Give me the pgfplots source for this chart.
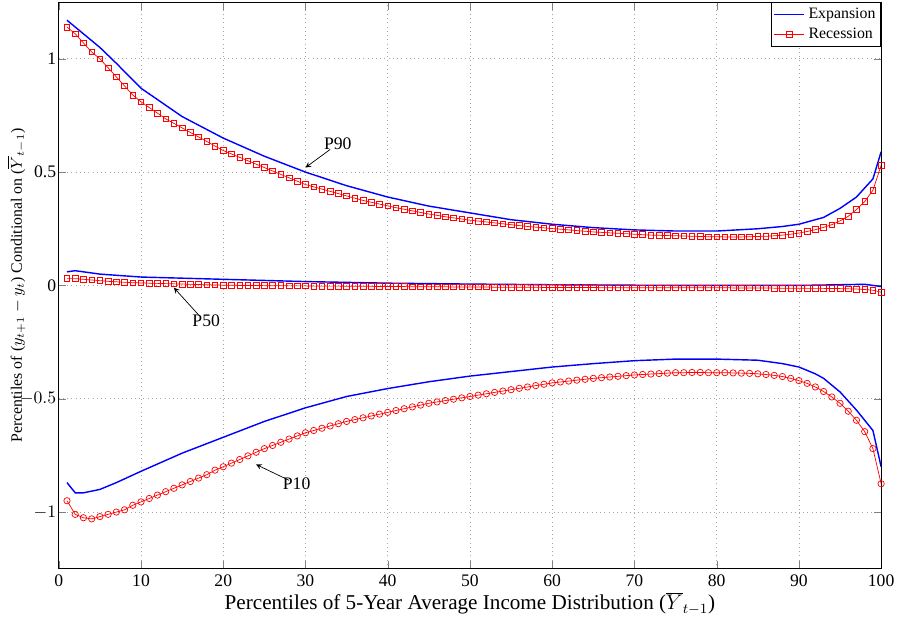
\documentclass[border=1pt]{standalone}
\usepackage{pgfplots}
\pgfplotsset{compat=1.18}
\usepackage{fontspec}
\setmainfont{Liberation Serif}
\begin{document}
\begin{tikzpicture}
\begin{axis}[scale only axis, width=16.4cm, height=11.3cm,
 xmin=0,xmax=100,ymin=-1.25,ymax=1.25,
 xtick={0,10,...,100}, ytick={-1,-0.5,0,0.5,1},
 yticklabels={$-1$,$-0.5$,0,0.5,1},
 /pgf/number format/assume math mode=true,
 yticklabel style={xshift=2pt},
 grid=major, grid style={dotted,gray!70},
 tick align=inside, axis line style={black},
 xlabel={\large Percentiles of 5-Year Average Income Distribution ($\overline{Y}_{t-1}$)},
 ylabel={Percentiles of ($y_{t+1}-y_t$) Conditional on ($\overline{Y}_{t-1}$)},
 ylabel style={font=\small},
 xlabel style={yshift=4pt}, ylabel style={yshift=-10pt},
 legend style={at={(1,1)},anchor=north east,font=\small,cells={anchor=west},inner sep=1pt},
 legend cell align=left]
\addplot[blue,thick] coordinates {(1,1.17)(2,1.14)(3,1.11)(5,1.05)(7,0.98)(10,0.87)(12,0.82)(15,0.745)(20,0.65)(25,0.57)(30,0.50)(35,0.44)(40,0.39)(45,0.35)(50,0.32)(55,0.29)(60,0.27)(65,0.255)(70,0.245)(75,0.24)(80,0.24)(85,0.25)(88,0.26)(90,0.27)(92,0.29)(93,0.30)(95,0.34)(97,0.39)(99,0.47)(100,0.59)};
\addlegendentry{Expansion}
\addplot[red,mark=square,mark size=1.6pt] coordinates {(1,1.14)(2,1.11)(3,1.07)(4,1.03)(5,1.00)(6,0.96)(7,0.92)(8,0.88)(9,0.84)(10,0.81)(11,0.785)(12,0.76)(13,0.735)(14,0.715)(15,0.695)(16,0.675)(17,0.655)(18,0.635)(19,0.615)(20,0.595)(21,0.58)(22,0.565)(23,0.55)(24,0.535)(25,0.52)(26,0.505)(27,0.49)(28,0.475)(29,0.46)(30,0.445)(31,0.435)(32,0.425)(33,0.415)(34,0.405)(35,0.395)(36,0.385)(37,0.375)(38,0.367)(39,0.359)(40,0.351)(41,0.343)(42,0.336)(43,0.329)(44,0.322)(45,0.315)(46,0.309)(47,0.303)(48,0.298)(49,0.293)(50,0.288)(51,0.284)(52,0.28)(53,0.276)(54,0.272)(55,0.268)(56,0.264)(57,0.26)(58,0.257)(59,0.254)(60,0.251)(61,0.248)(62,0.245)(63,0.242)(64,0.239)(65,0.236)(66,0.234)(67,0.232)(68,0.23)(69,0.228)(70,0.226)(71,0.224)(72,0.222)(73,0.221)(74,0.22)(75,0.219)(76,0.218)(77,0.217)(78,0.216)(79,0.215)(80,0.215)(81,0.214)(82,0.214)(83,0.214)(84,0.215)(85,0.216)(86,0.217)(87,0.219)(88,0.222)(89,0.226)(90,0.231)(91,0.238)(92,0.246)(93,0.256)(94,0.268)(95,0.285)(96,0.305)(97,0.335)(98,0.37)(99,0.42)(100,0.53)};
\addlegendentry{Recession}
\addplot[blue,thick,forget plot] coordinates {(1,0.06)(2,0.065)(5,0.05)(10,0.037)(20,0.027)(30,0.017)(40,0.01)(50,0.006)(60,0.003)(70,0.001)(80,0.0)(90,0.0)(98,0.005)(100,-0.005)};
\addplot[red,mark=square,mark size=1.6pt,forget plot] coordinates {(1,0.03)(2,0.03)(3,0.027)(4,0.024)(5,0.021)(6,0.018)(7,0.016)(8,0.014)(9,0.012)(10,0.011)(11,0.01)(12,0.009)(13,0.008)(14,0.007)(15,0.006)(16,0.005)(17,0.004)(18,0.003)(19,0.002)(20,0.001)(21,0.001)(22,0)(23,0)(24,0)(25,-0.001)(26,-0.001)(27,-0.001)(28,-0.002)(29,-0.002)(30,-0.002)(31,-0.003)(32,-0.003)(33,-0.003)(34,-0.003)(35,-0.004)(36,-0.004)(37,-0.004)(38,-0.004)(39,-0.005)(40,-0.005)(41,-0.005)(42,-0.005)(43,-0.006)(44,-0.006)(45,-0.006)(46,-0.006)(47,-0.006)(48,-0.007)(49,-0.007)(50,-0.007)(51,-0.007)(52,-0.007)(53,-0.008)(54,-0.008)(55,-0.008)(56,-0.008)(57,-0.008)(58,-0.008)(59,-0.009)(60,-0.009)(61,-0.009)(62,-0.009)(63,-0.009)(64,-0.009)(65,-0.009)(66,-0.01)(67,-0.01)(68,-0.01)(69,-0.01)(70,-0.01)(71,-0.01)(72,-0.01)(73,-0.01)(74,-0.01)(75,-0.01)(76,-0.01)(77,-0.01)(78,-0.01)(79,-0.01)(80,-0.01)(81,-0.01)(82,-0.011)(83,-0.011)(84,-0.011)(85,-0.011)(86,-0.011)(87,-0.012)(88,-0.012)(89,-0.012)(90,-0.012)(91,-0.013)(92,-0.013)(93,-0.013)(94,-0.014)(95,-0.014)(96,-0.015)(97,-0.016)(98,-0.018)(99,-0.021)(100,-0.03)};
\addplot[blue,thick,forget plot] coordinates {(1,-0.87)(2,-0.915)(3,-0.915)(5,-0.9)(7,-0.87)(10,-0.82)(15,-0.74)(20,-0.67)(25,-0.60)(30,-0.54)(35,-0.49)(40,-0.455)(45,-0.425)(50,-0.40)(55,-0.38)(60,-0.36)(65,-0.345)(70,-0.332)(75,-0.325)(80,-0.325)(85,-0.33)(88,-0.345)(90,-0.36)(92,-0.39)(93,-0.41)(95,-0.47)(97,-0.55)(99,-0.64)(100,-0.80)};
\addplot[red,mark=o,mark size=1.8pt,forget plot] coordinates {(1,-0.95)(2,-1.01)(3,-1.025)(4,-1.03)(5,-1.02)(6,-1.01)(7,-1.0)(8,-0.99)(9,-0.97)(10,-0.955)(11,-0.94)(12,-0.925)(13,-0.91)(14,-0.895)(15,-0.88)(16,-0.865)(17,-0.85)(18,-0.835)(19,-0.815)(20,-0.80)(21,-0.784)(22,-0.768)(23,-0.752)(24,-0.736)(25,-0.72)(26,-0.706)(27,-0.692)(28,-0.678)(29,-0.664)(30,-0.65)(31,-0.64)(32,-0.63)(33,-0.62)(34,-0.61)(35,-0.60)(36,-0.592)(37,-0.584)(38,-0.576)(39,-0.568)(40,-0.56)(41,-0.552)(42,-0.544)(43,-0.536)(44,-0.528)(45,-0.52)(46,-0.514)(47,-0.508)(48,-0.502)(49,-0.496)(50,-0.49)(51,-0.484)(52,-0.478)(53,-0.472)(54,-0.466)(55,-0.46)(56,-0.454)(57,-0.448)(58,-0.442)(59,-0.436)(60,-0.43)(61,-0.426)(62,-0.422)(63,-0.418)(64,-0.414)(65,-0.41)(66,-0.407)(67,-0.404)(68,-0.401)(69,-0.398)(70,-0.395)(71,-0.393)(72,-0.391)(73,-0.389)(74,-0.387)(75,-0.385)(76,-0.385)(77,-0.384)(78,-0.384)(79,-0.385)(80,-0.385)(81,-0.385)(82,-0.386)(83,-0.387)(84,-0.388)(85,-0.39)(86,-0.393)(87,-0.397)(88,-0.402)(89,-0.41)(90,-0.42)(91,-0.432)(92,-0.448)(93,-0.468)(94,-0.492)(95,-0.52)(96,-0.555)(97,-0.595)(98,-0.645)(99,-0.72)(100,-0.875)};
\draw[-stealth] (axis cs:33,0.6) -- (axis cs:30,0.52);
\node[anchor=south west,inner sep=1pt] at (axis cs:32,0.59) {P90};
\draw[-stealth] (axis cs:17,-0.13) -- (axis cs:14,-0.01);
\node[anchor=north west,inner sep=1pt] at (axis cs:16,-0.12) {P50};
\draw[-stealth] (axis cs:28,-0.86) -- (axis cs:24,-0.79);
\node[anchor=north west,inner sep=1pt] at (axis cs:27,-0.84) {P10};
\end{axis}
\end{tikzpicture}
\end{document}
